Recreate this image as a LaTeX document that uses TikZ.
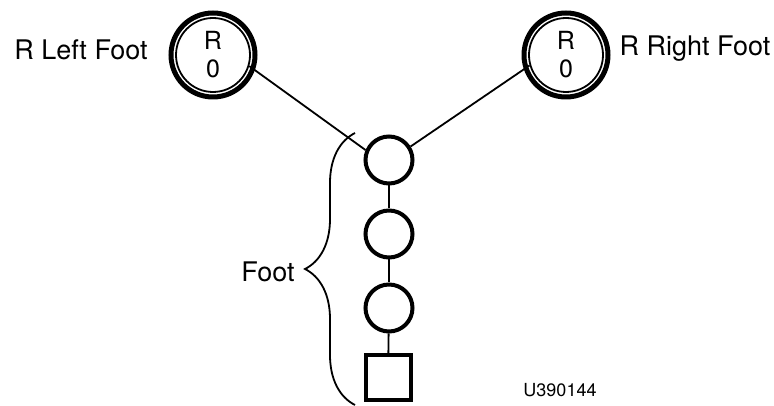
\documentclass[tikz,border=0pt]{standalone}
\usepackage{fontspec}
\setmainfont{TeX Gyre Heros}
\usetikzlibrary{decorations.pathreplacing}
\tikzset{
  rootnode/.style={circle,inner sep=0pt,minimum size=74pt,line width=1.8pt,draw,
    align=center,font=\fontsize{25}{28}\selectfont},
  segnode/.style={circle,inner sep=0pt,minimum size=47pt,line width=4pt,draw},
  endnode/.style={rectangle,inner sep=0pt,minimum size=45pt,line width=4pt,draw},
  lbl/.style={font=\fontsize{27}{30}\selectfont},
  link/.style={line width=1.8pt}
}
\begin{document}
\begin{tikzpicture}[x=1pt,y=1pt]
  \useasboundingbox (0,0) rectangle (774,406);
  % roots
  \node[rootnode] (lf) at (213,351) {R\\0};
  \node[rootnode] (rf) at (566,351) {R\\0};
  \draw[line width=5pt] (lf.center) circle[radius=42];
  \draw[line width=5pt] (rf.center) circle[radius=42];
  \node[lbl] (lflbl) at (81,356) {R Left Foot};
  \node[lbl] (rflbl) at (695,357) {R Right Foot};
  % chain
  \node[segnode] (s1) at (389,246) {};
  \node[segnode] (s2) at (389,172) {};
  \node[segnode] (s3) at (389,98) {};
  \node[endnode] (s4) at (388,28) {};
  \draw[link] (lf.-17) -- (s1.157);
  \draw[link] (rf.196) -- (s1.32);
  \draw[link] (s1) -- (s2);
  \draw[link] (s2) -- (s3);
  \draw[link] (s3) -- (s4);
  % brace
  \coordinate (bb) at (355,1);
  \coordinate (bt) at (355,273);
  \draw[line width=1.8pt,decorate,decoration={brace,amplitude=50pt}] (bb) -- (bt);
  \node[lbl] (footlbl) at (268,134) {Foot};
  \node[font=\fontsize{18}{20}\selectfont] (fig) at (560,16) {U390144};
\end{tikzpicture}
\end{document}
